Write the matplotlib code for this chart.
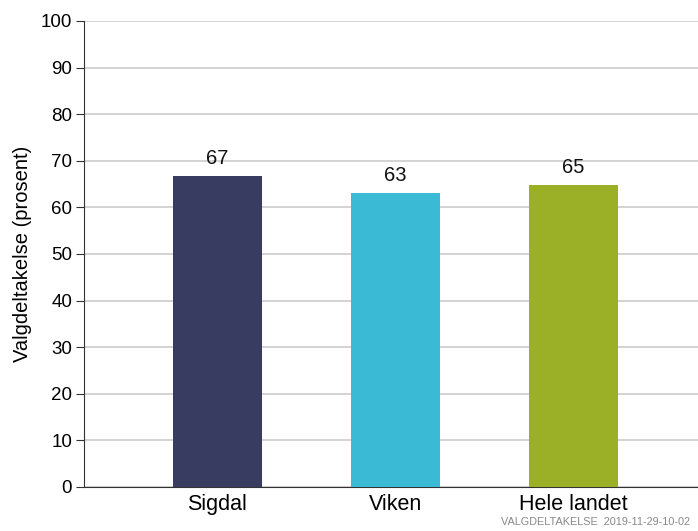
import matplotlib.pyplot as plt
import numpy as np

plt.rcParams['font.family'] = ['Liberation Sans', 'DejaVu Sans']

categories = ["Sigdal", "Viken", "Hele landet"]
values = [66.7, 63.1, 64.8]
labels = ["67", "63", "65"]
colors = ["#393c61", "#3bbad6", "#9bb027"]

fig = plt.figure(figsize=(6.98, 5.31), dpi=100)
ax = fig.add_axes([0.1203, 0.0829, 0.8797, 0.8776])

x = np.arange(len(categories))
ax.bar(x, values, width=0.5, color=colors, zorder=3)
for xi, v, lab in zip(x, values, labels):
    ax.text(xi, v + 1.8, lab, ha="center", va="bottom", fontsize=14.5, color="#111111")

ax.set_ylim(0, 100)
ax.set_xlim(-0.75, 2.7)
ax.set_yticks(np.arange(0, 101, 10))
ax.set_xticks(x)
ax.set_xticklabels(categories, fontsize=15.5)
ax.tick_params(axis="y", labelsize=13.5, length=5.5, pad=3, color="#333333")
ax.tick_params(axis="x", length=0, pad=5)
ax.yaxis.grid(True, color="#cccccc", linewidth=1.2, zorder=0)
for s in ["top", "right"]:
    ax.spines[s].set_visible(False)
ax.spines["left"].set_color("#333333")
ax.spines["bottom"].set_color("#333333")
ax.set_ylabel("Valgdeltakelse (prosent)", fontsize=14.5, labelpad=6)

fig.text(0.988, 0.008, "VALGDELTAKELSE  2019-11-29-10-02", ha="right", va="bottom",
         fontsize=7.8, color="#888888")

fig.savefig("out.png", dpi=100)
